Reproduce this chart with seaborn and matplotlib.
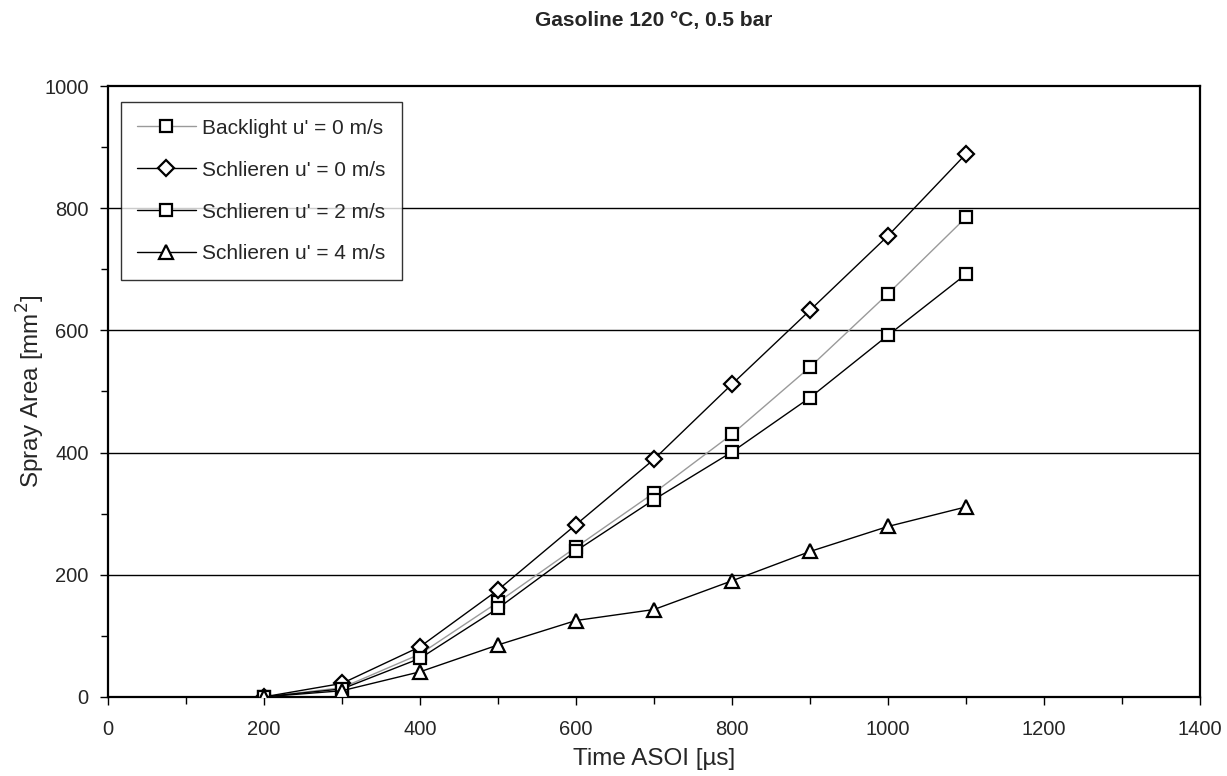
import matplotlib
matplotlib.use("Agg")
import matplotlib.pyplot as plt
import seaborn as sns
import pandas as pd
from matplotlib.ticker import MultipleLocator

time_us = [200, 300, 400, 500, 600, 700, 800, 900, 1000, 1100]
backlight_0 = [0, 15, 70, 155, 245, 334, 430, 540, 660, 785]
schlieren_0 = [0, 22, 82, 175, 282, 389, 512, 633, 755, 889]
schlieren_2 = [0, 13, 63, 145, 239, 323, 401, 490, 592, 692]
schlieren_4 = [0, 10, 41, 85, 125, 143, 190, 238, 279, 311]

labels = ["Backlight u' = 0 m/s", "Schlieren u' = 0 m/s",
          "Schlieren u' = 2 m/s", "Schlieren u' = 4 m/s"]
series = [backlight_0, schlieren_0, schlieren_2, schlieren_4]
colors = ["#9a9a9a", "black", "black", "black"]
markers = ["s", "D", "s", "^"]
msizes = [8.2, 8.5, 8.2, 9.5]

sns.set_theme(style="white")
plt.rcParams['font.family'] = ['Liberation Sans', 'DejaVu Sans']

fig = plt.figure(figsize=(12.27, 7.76), dpi=100)
ax = fig.add_axes([0.088, 0.102, 0.890, 0.787])

for lab, vals, c, m, ms in zip(labels, series, colors, markers, msizes):
    df = pd.DataFrame({"t": time_us, "a": vals})
    sns.lineplot(data=df, x="t", y="a", ax=ax, color=c, linewidth=1.0,
                 marker=m, markersize=ms, markerfacecolor="white",
                 markeredgecolor="black", markeredgewidth=1.6, label=lab,
                 zorder=3)

ax.set_xlim(0, 1400)
ax.set_ylim(0, 1000)
ax.xaxis.set_major_locator(MultipleLocator(200))
ax.xaxis.set_minor_locator(MultipleLocator(100))
ax.yaxis.set_major_locator(MultipleLocator(200))
ax.yaxis.set_minor_locator(MultipleLocator(100))
ax.tick_params(axis="both", which="both", direction="out", color="black",
               bottom=True, left=True, top=False, right=False)
ax.tick_params(axis="both", which="major", length=6, width=1, labelsize=14.5)
ax.tick_params(axis="x", which="major", pad=11)
ax.tick_params(axis="y", which="major", pad=8)
ax.tick_params(axis="both", which="minor", length=5, width=1)
ax.grid(False)
for y in [200, 400, 600, 800]:
    ax.axhline(y, color="black", linewidth=1.0, zorder=1)
for s in ax.spines.values():
    s.set_color("black")
    s.set_linewidth(1.6)

ax.set_xlabel("Time ASOI [µs]", fontsize=17.5, labelpad=6)
ax.set_ylabel("Spray Area [mm$^2$]", fontsize=17.5, labelpad=-2)
fig.text(0.533, 0.974, "Gasoline 120 °C, 0.5 bar", fontsize=15, fontweight="bold",
         ha="center", va="center")

leg = ax.legend(loc="upper left", bbox_to_anchor=(0.0116, 0.974), fontsize=15,
                frameon=True, fancybox=False, edgecolor="black",
                handlelength=2.8, labelspacing=1.1, borderpad=0.8,
                handletextpad=0.3, borderaxespad=0)
leg.get_frame().set_linewidth(1.0)

fig.savefig("out.png", dpi=100, facecolor="white")
